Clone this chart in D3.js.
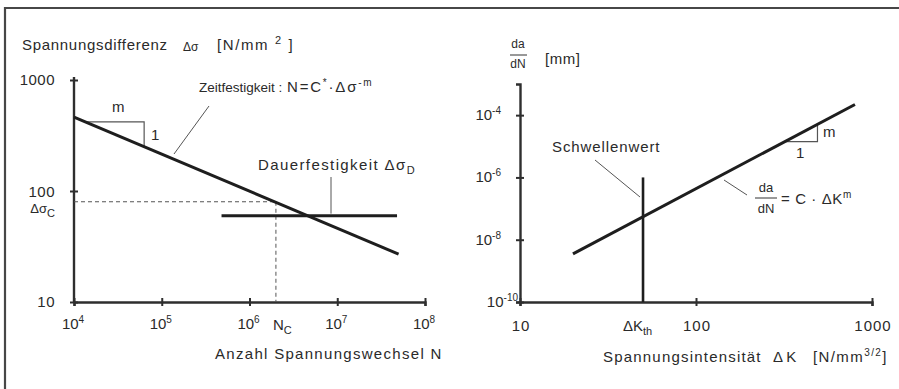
<!DOCTYPE html>
<html>
<head>
<meta charset="utf-8">
<script src="https://cdn.jsdelivr.net/npm/d3@7"></script>
<style>
  html, body { margin: 0; padding: 0; background: #fff; }
  svg { display: block; }
  text { font-family: "Liberation Sans", Arial, sans-serif; fill: #2a2a2a; }
</style>
</head>
<body>
<svg id="chart" width="899" height="389"></svg>
<script>
// ---- Wöhler (S-N) diagram ----
const snTicksN = [1e4, 1e5, 1e6, 1e7, 1e8];
const snTickExp = ["4", "5", "6", "7", "8"];
const snTicksS = [10, 100, 1000];
const snLineN = [1e4, 5e7];          // Zeitfestigkeit
const snLineS = [464, 27];
const enduranceN = [4.8e5, 4.8e7];   // Dauerfestigkeit Δσ_D
const enduranceS = [60, 60];
const refN = 2e6;                    // N_C
const refS = 80;                     // Δσ_C
const slopeTriN = [1.36e4, 6.3e4];   // m : 1 slope triangle
const slopeTriS = [419, 251];

// ---- crack growth diagram ----
const kTicks = [10, 100, 1000];
const rateTicks = [1e-4, 1e-6, 1e-8, 1e-10];
const rateTickExp = ["-4", "-6", "-8", "-10"];
const crackK = [20, 800];
const crackRate = [3.5e-9, 2.2e-4];
const thresholdK = 50;               // ΔK_th
const thresholdRate = [1e-10, 1e-6];
const crackTriK = [320, 490];
const crackTriRate = [1.41e-5, 5.06e-5];

const svg = d3.select("#chart");
const FS = 15;

// outer frame
svg.append("path")
  .attr("d", "M5,389 V8 H899")
  .attr("fill", "none").attr("stroke", "#474747").attr("stroke-width", 2.2);

// rich text helper: parts = [text, "sup"/"sub"/null, size]
function rich(x, y, parts, anchor = "start", size = FS) {
  const t = svg.append("text").attr("x", x).attr("y", y)
    .attr("text-anchor", anchor).attr("font-size", size);
  let shift = 0;
  parts.forEach(p => {
    const [str, kind, sz] = Array.isArray(p) ? p : [p, null, null];
    const target = kind === "sup" ? -6 : kind === "sub" ? 4 : 0;
    const ts = t.append("tspan").text(str)
      .attr("font-size", sz || (kind ? size * 0.7 : size));
    if (target !== shift) { ts.attr("dy", target - shift); shift = target; }
  });
  return t;
}

function line(x1, y1, x2, y2, w, col, dash) {
  const l = svg.append("line").attr("x1", x1).attr("y1", y1)
    .attr("x2", x2).attr("y2", y2)
    .attr("stroke", col).attr("stroke-width", w);
  if (dash) l.attr("stroke-dasharray", dash);
  return l;
}

function styleAxis(g, horizontal) {
  g.select(".domain").attr("stroke", "#2e2e2e").attr("stroke-width", 2.4);
  g.selectAll(".tick line").attr("stroke", "#2e2e2e").attr("stroke-width", 2)
    .each(function () {
      const s = d3.select(this);
      if (horizontal) s.attr("y1", -4).attr("y2", 4);
      else s.attr("x1", -4).attr("x2", 4);
    });
  g.selectAll(".tick text").remove();
}

// ===== Left panel =====
const xN = d3.scaleLog().domain([1e4, 1e8]).range([74, 425]);
const yS = d3.scaleLog().domain([10, 1000]).range([302, 80]);

const gxL = svg.append("g").attr("transform", `translate(0,${yS(10)})`)
  .call(d3.axisBottom(xN).tickValues(snTicksN).tickSizeOuter(0).tickSize(4));
styleAxis(gxL, true);
const gyL = svg.append("g").attr("transform", `translate(${xN(1e4)},0)`)
  .call(d3.axisLeft(yS).tickValues(snTicksS).tickSizeOuter(0).tickSize(4));
styleAxis(gyL, false);
gyL.select(".domain").attr("d", `M0,${yS(10)}V${yS(1000) - 3}`);

// reference dashed lines at N_C / Δσ_C
line(xN(1e4), yS(refS), xN(refN), yS(refS), 1, "#555", "4,3");
line(xN(refN), yS(refS), xN(refN), yS(10), 1, "#555", "4,3");

// slope triangle
svg.append("path")
  .attr("d", `M${xN(slopeTriN[0])},${yS(slopeTriS[0])}H${xN(slopeTriN[1])}V${yS(slopeTriS[1])}`)
  .attr("fill", "none").attr("stroke", "#555").attr("stroke-width", 1.2);

// S-N line and endurance limit
const snPath = d3.line().x(d => xN(d[0])).y(d => yS(d[1]));
svg.append("path").datum(d3.zip(snLineN, snLineS)).attr("d", snPath)
  .attr("fill", "none").attr("stroke", "#1e1e1e").attr("stroke-width", 3);
svg.append("path").datum(d3.zip(enduranceN, enduranceS)).attr("d", snPath)
  .attr("fill", "none").attr("stroke", "#1e1e1e").attr("stroke-width", 3);

// leader lines
line(209, 106, 174, 154, 1, "#555");
line(331, 177, 331, yS(enduranceS[0]) - 2, 1, "#555");

// texts left
rich(22, 50, ["Spannungsdifferenz"]).attr("letter-spacing", 0.7);
rich(183, 51, ["Δσ"], "start", 12);
rich(217, 50, ["[N/mm ", ["2", "sup", 11], [" ]", null, FS]]).attr("letter-spacing", 1.6);
snTicksS.forEach((v, i) => {
  rich(55, yS(v) + [5, 6, 5][i], [String(v)], "end").attr("letter-spacing", 0.5);
});
rich(55, 213, ["Δσ", ["C", "sub", 11]], "end", 13);
snTicksN.forEach((v, i) => {
  rich(xN(v) - 1, 329, ["10", [snTickExp[i], "sup", 10]], "middle");
});
rich(273, 330, ["N", ["C", "sub", 11]]);
rich(215, 359, ["Anzahl Spannungswechsel N"]).attr("letter-spacing", 1.3);
rich(199, 92, ["Zeitfestigkeit :"], "start", 13.5).attr("letter-spacing", 0);
rich(287, 92, ["N=C", ["*", "sup", 10], ["·Δσ", null, FS], ["-m", "sup", 10]])
  .attr("letter-spacing", 1.8);
rich(112, 112, ["m"]);
rich(151, 140, ["1"]);
rich(258, 170, ["Dauerfestigkeit Δσ", ["D", "sub", 11]]).attr("letter-spacing", 1.4);

// ===== Right panel =====
const xK = d3.scaleLog().domain([10, 1000]).range([520, 872]);
const yR = d3.scaleLog().domain([1e-10, 1e-3]).range([302, 84]);

const gxR = svg.append("g").attr("transform", `translate(0,${yR(1e-10)})`)
  .call(d3.axisBottom(xK).tickValues(kTicks).tickSizeOuter(0).tickSize(4));
styleAxis(gxR, true);
const gyR = svg.append("g").attr("transform", `translate(${xK(10)},0)`)
  .call(d3.axisLeft(yR).tickValues(rateTicks).tickSizeOuter(0).tickSize(4));
styleAxis(gyR, false);

// slope triangle
svg.append("path")
  .attr("d", `M${xK(crackTriK[0])},${yR(crackTriRate[0])}H${xK(crackTriK[1])}V${yR(crackTriRate[1])}`)
  .attr("fill", "none").attr("stroke", "#555").attr("stroke-width", 1.2);

const crPath = d3.line().x(d => xK(d[0])).y(d => yR(d[1]));
svg.append("path").datum(d3.zip(crackK, crackRate)).attr("d", crPath)
  .attr("fill", "none").attr("stroke", "#1e1e1e").attr("stroke-width", 3);
svg.append("path").datum(thresholdRate.map(r => [thresholdK, r])).attr("d", crPath)
  .attr("fill", "none").attr("stroke", "#1e1e1e").attr("stroke-width", 2.6);

line(595, 160, 640, 197, 1, "#555");
line(724, 180, 747, 195, 1, "#555");

// texts right
rich(518, 48, ["da"], "middle", 12);
line(510, 55, 527, 55, 1, "#333");
rich(518, 68, ["dN"], "middle", 12);
rich(545, 64, ["[mm]"]).attr("letter-spacing", 0.5);
rateTicks.forEach((v, i) => {
  rich(i === 3 ? 518 : 501, yR(v) + 5, ["10", [rateTickExp[i], "sup", 10]], "end");
});
kTicks.forEach(v => rich(xK(v) + 1, 331, [String(v)], "middle").attr("letter-spacing", 1));
rich(623, 331, ["ΔK", ["th", "sub", 11]]);
rich(603, 362, ["Spannungsintensität"]).attr("letter-spacing", 1.2);
rich(773, 362, ["Δ K"]);
rich(813, 362, ["[N/mm", ["3/2", "sup", 10], ["]", null, FS]]).attr("letter-spacing", 1.4);
rich(552, 152, ["Schwellenwert"]).attr("letter-spacing", 0.9);
rich(823, 137, ["m"]);
rich(796, 158, ["1"]);
rich(766, 192, ["da"], "middle", 13);
line(755, 198, 777, 198, 1, "#333");
rich(766, 213, ["dN"], "middle", 13);
rich(781, 204, ["= C · ΔK", ["m", "sup", 10]]).attr("letter-spacing", 0.6);
</script>
</body>
</html>
